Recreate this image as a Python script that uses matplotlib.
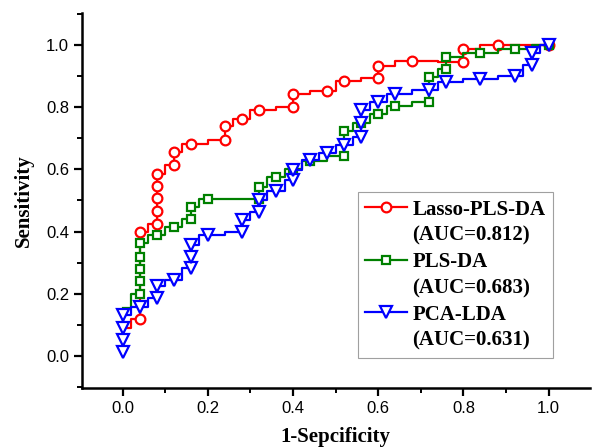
import numpy as np
import matplotlib.pyplot as plt
from matplotlib.lines import Line2D
from matplotlib.ticker import MultipleLocator, FormatStrFormatter

# ROC points (1-specificity, sensitivity) for each classifier
lasso_fpr = [0.00, 0.04, 0.04, 0.08, 0.08, 0.08, 0.08, 0.08, 0.12, 0.12, 0.16,
             0.24, 0.24, 0.28, 0.32, 0.40, 0.40, 0.48, 0.52, 0.60, 0.60, 0.68,
             0.80, 0.80, 0.88, 1.00]
lasso_tpr = [0.09, 0.118, 0.40, 0.425, 0.467, 0.508, 0.547, 0.586, 0.615, 0.655,
             0.683, 0.694, 0.739, 0.764, 0.792, 0.80, 0.844, 0.854, 0.884, 0.895,
             0.934, 0.948, 0.945, 0.988, 1.00, 1.00]

pls_fpr = [0.00, 0.04, 0.04, 0.04, 0.04, 0.04, 0.08, 0.12, 0.16, 0.16, 0.20,
           0.32, 0.32, 0.36, 0.40, 0.44, 0.52, 0.52, 0.56, 0.60, 0.64, 0.72,
           0.72, 0.76, 0.76, 0.84, 0.92, 1.00]
pls_tpr = [0.153, 0.198, 0.239, 0.279, 0.319, 0.363, 0.39, 0.416, 0.44, 0.479,
           0.506, 0.506, 0.545, 0.577, 0.60, 0.628, 0.642, 0.725, 0.748, 0.777,
           0.803, 0.816, 0.897, 0.922, 0.963, 0.975, 0.988, 1.00]

pca_fpr = [0.00, 0.00, 0.00, 0.00, 0.04, 0.08, 0.08, 0.12, 0.16, 0.16, 0.16,
           0.20, 0.28, 0.28, 0.32, 0.32, 0.36, 0.40, 0.40, 0.44, 0.48, 0.52,
           0.56, 0.56, 0.56, 0.60, 0.64, 0.72, 0.76, 0.84, 0.92, 0.96, 0.96,
           1.00]
pca_tpr = [0.013, 0.051, 0.088, 0.131, 0.158, 0.185, 0.225, 0.244, 0.282, 0.319,
           0.357, 0.389, 0.397, 0.436, 0.464, 0.502, 0.532, 0.565, 0.599, 0.629,
           0.654, 0.678, 0.706, 0.750, 0.790, 0.817, 0.842, 0.855, 0.882, 0.892,
           0.902, 0.936, 0.975, 1.00]

names = ['Lasso-PLS-DA', 'PLS-DA', 'PCA-LDA']
aucs = ['(AUC=0.812)', '(AUC=0.683)', '(AUC=0.631)']

plt.rcParams['font.family'] = ['Liberation Sans', 'DejaVu Sans']

fig = plt.figure(figsize=(5.92, 4.48), dpi=100)
ax = fig.add_axes([0.138, 0.1333, 0.8586, 0.8377])

series = [
    (lasso_fpr, lasso_tpr, '#FF0000', 'o', 7.0, 1),
    (pls_fpr, pls_tpr, '#008000', 's', 6.0, 1),
    (pca_fpr, pca_tpr, '#0000FF', 'v', 8.0, 0),
]
handles = []
for fx, fy, col, mk, ms, first in series:
    ln, = ax.plot(fx, fy, drawstyle='steps-mid', color=col, lw=1.6,
                  marker=mk, ms=ms, mfc='white', mec=col, mew=1.6,
                  markevery=list(range(first, len(fx))))
    handles.append(Line2D([], [], color=col, lw=1.6, marker=mk, ms=ms,
                          mfc='white', mec=col, mew=1.6))

ax.set_xlim(-0.096, 1.097)
ax.set_ylim(-0.105, 1.104)

ax.xaxis.set_minor_locator(MultipleLocator(0.1))
ax.yaxis.set_minor_locator(MultipleLocator(0.1))
ax.set_xticks([0.0, 0.2, 0.4, 0.6, 0.8, 1.0])
ax.set_yticks([0.0, 0.2, 0.4, 0.6, 0.8, 1.0])
ax.xaxis.set_major_formatter(FormatStrFormatter('%.1f'))
ax.yaxis.set_major_formatter(FormatStrFormatter('%.1f'))

for s in ['top', 'right']:
    ax.spines[s].set_visible(False)
for s in ['left', 'bottom']:
    ax.spines[s].set_linewidth(1.8)

ax.tick_params(which='major', direction='out', length=6, width=1.6,
               labelsize=12, pad=3)
ax.tick_params(which='minor', direction='out', length=3.5, width=1.4)

serif = ['Liberation Serif', 'DejaVu Serif']
ax.set_xlabel('1-Sepcificity', family=serif, fontweight='bold', fontsize=15,
              labelpad=8)
ax.set_ylabel('Sensitivity', family=serif, fontweight='bold', fontsize=15,
              labelpad=9)

# each method gets its name row with the symbol, then an AUC row without one
blank = Line2D([], [], linestyle='none')
leg_handles, leg_labels = [], []
for h, n, a in zip(handles, names, aucs):
    leg_handles += [h, blank]
    leg_labels += [n, a]

leg = ax.legend(leg_handles, leg_labels, loc='upper left',
                bbox_to_anchor=(0.544, 0.522), borderaxespad=0,
                fancybox=False, frameon=True,
                prop={'family': serif, 'weight': 'bold', 'size': 15},
                handlelength=2.0, handletextpad=0.25, labelspacing=0.3,
                borderpad=0.35)
leg.get_frame().set_edgecolor('#888888')
leg.get_frame().set_linewidth(0.8)

fig.savefig('out.png', dpi=100)
